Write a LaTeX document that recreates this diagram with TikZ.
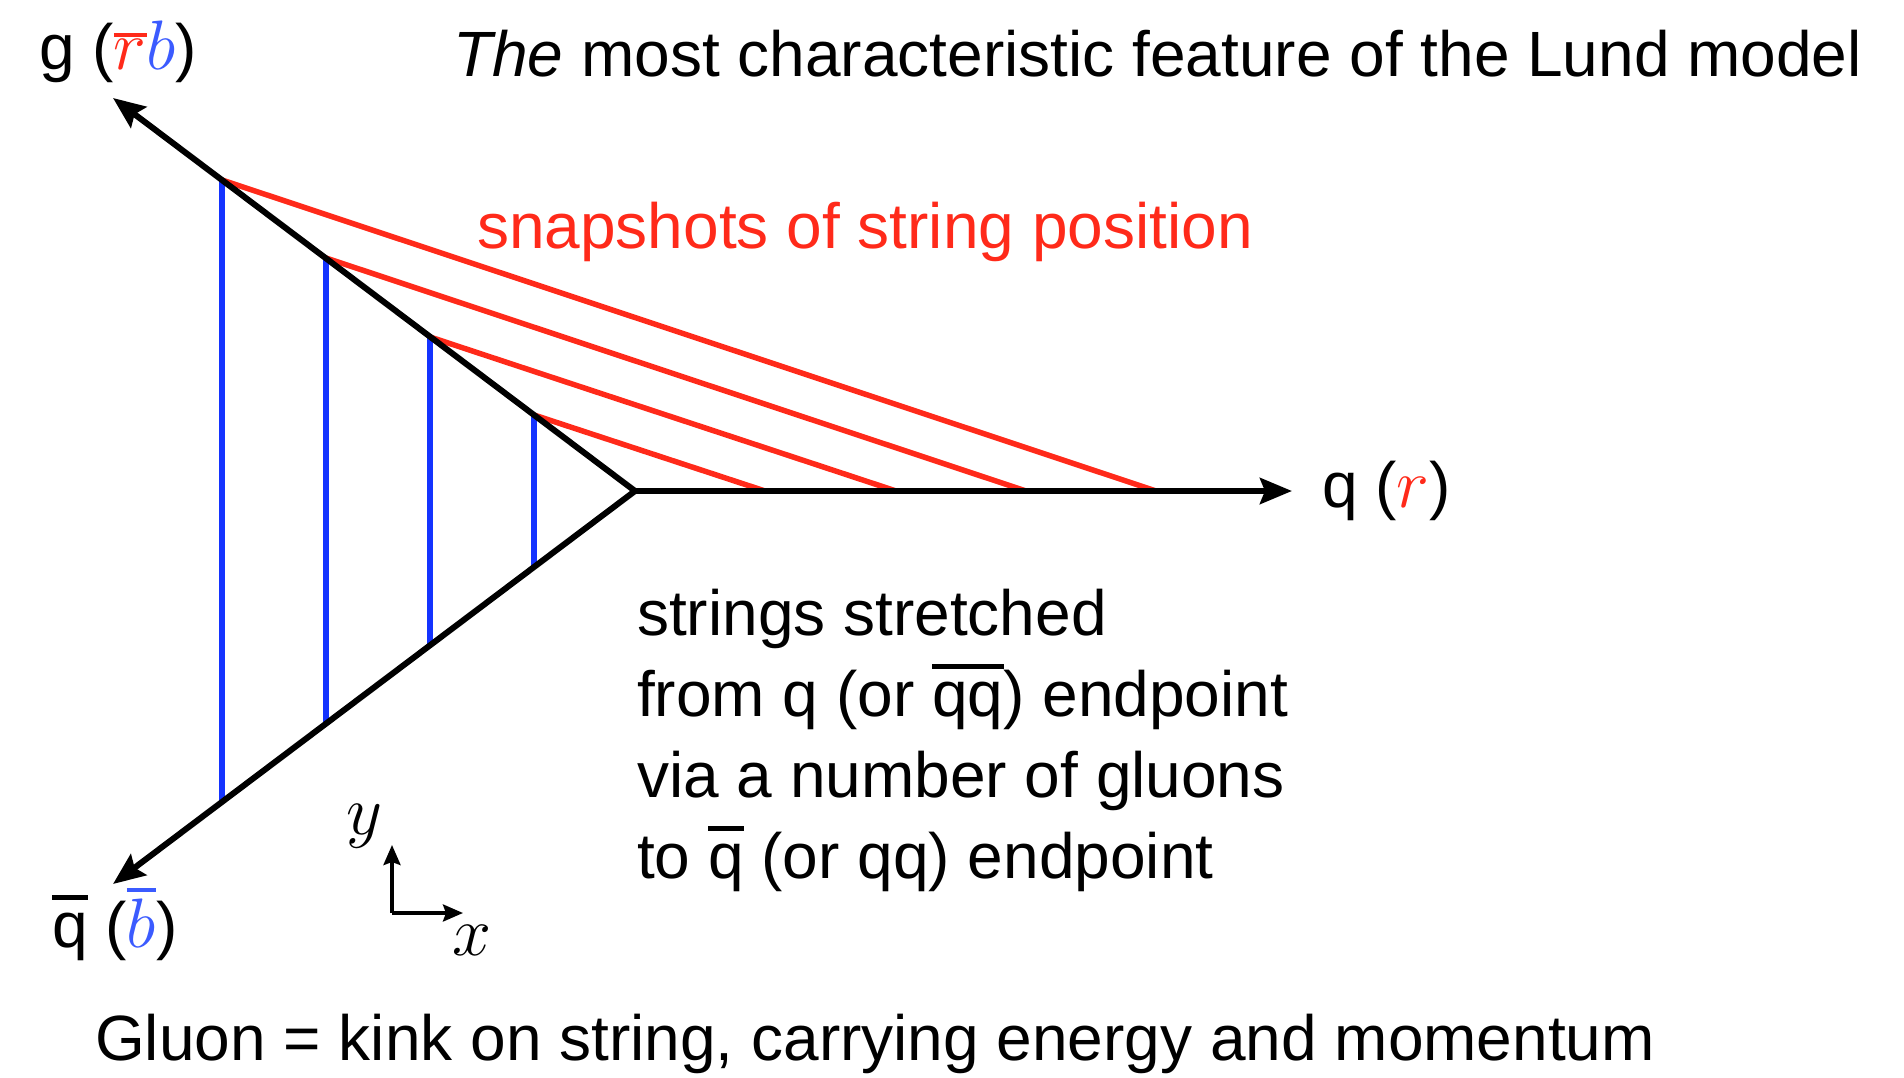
\RequirePackage{fix-cm}
\documentclass[tikz,border=0pt]{standalone}
\usepackage{fontspec}
\setmainfont{Liberation Sans}
\usetikzlibrary{arrows.meta}
\definecolor{lred}{HTML}{FF2A1A}
\definecolor{lblue}{HTML}{1433FF}
\definecolor{lblueb}{HTML}{3B5BFF}
% overline over text (bar near cap height)
\newcommand{\ovl}[1]{\leavevmode\vbox{\hrule height 4.5pt\kern 0.2em\hbox{#1}}}
% overline over math letter
\newcommand{\ovlm}[2]{\leavevmode\vbox{\hrule height 4pt\kern #2\hbox{$#1$}}}
\newcommand{\mth}[1]{{\fontsize{70}{74}\selectfont #1}}
\begin{document}
\begin{tikzpicture}[x=1pt,y=-1pt,
  arm/.style={line width=6pt,draw=black},
  armarrow/.style={arm,-{Stealth[length=32pt,width=26pt,inset=5pt]}},
  gl/.style={line width=6pt,draw=lblue},
  snap/.style={line width=5.5pt,draw=lred},
  smallaxis/.style={line width=3.5pt,-{Stealth[length=20pt,width=17pt,inset=3pt]}},
  txt/.style={inner sep=0pt,anchor=base west,font=\fontsize{64}{81}\selectfont}]
\useasboundingbox (0,0) rectangle (1904,1078);
% main geometry
\coordinate (O) at (635,491);
\coordinate (G) at (113,98);
\coordinate (Q) at (1292,491);
\coordinate (QB) at (113,884);
% kinks on upper and lower arms
\coordinate (u1) at (222,180);
\coordinate (u2) at (326,258);
\coordinate (u3) at (430,337);
\coordinate (u4) at (534,415);
\coordinate (d1) at (222,802);
\coordinate (d2) at (326,724);
\coordinate (d3) at (430,645);
\coordinate (d4) at (534,567);
% ends on the q axis
\coordinate (r1) at (1156,491);
\coordinate (r2) at (1026,491);
\coordinate (r3) at (896,491);
\coordinate (r4) at (765,491);
% blue (vertical) strings
\foreach \i in {1,...,4} \draw[gl] (u\i) -- (d\i);
% red snapshots
\foreach \i in {1,...,4} \draw[snap] (u\i) -- (r\i);
% black arms
\draw[armarrow] (O) -- (G);
\draw[armarrow] (O) -- (QB);
\draw[armarrow] (O) -- (Q);
% small axes
\coordinate (ax0) at (392,913);
\coordinate (axy) at (392,845);
\coordinate (axx) at (463,913);
\draw[smallaxis] (ax0) -- (axy);
\draw[smallaxis] (ax0) -- (axx);
\node[inner sep=0pt] (ylab) at (364,826) {\mth{$y$}};
\node[inner sep=0pt] (xlab) at (472,940) {\mth{$x$}};
% labels
\node[txt] (title) at (453,77) {\textit{The} most characteristic feature of the Lund model};
\node[txt] (glab) at (39,70) {g (\mth{\textcolor{lred}{\ovlm{r}{3pt}}\textcolor{lblueb}{$b$}})};
\node[txt] (qlab) at (1322,507) {q (\mth{\textcolor{lred}{$r$}})};
\node[txt] (qblab) at (52,947) {\ovl{q} (\mth{\textcolor{lblueb}{\ovlm{b}{6pt}}})};
\node[txt,text=lred] (snaplab) at (477,248) {snapshots of string position};
\node[txt] (l1) at (637,635) {strings stretched};
\node[txt] (l2) at (637,716) {from q (or \ovl{qq}) endpoint};
\node[txt] (l3) at (637,797) {via a number of gluons};
\node[txt] (l4) at (637,878) {to \ovl{q} (or qq) endpoint};
\node[txt] (bottom) at (95,1060) {Gluon = kink on string, carrying energy and momentum};
\end{tikzpicture}
\end{document}
